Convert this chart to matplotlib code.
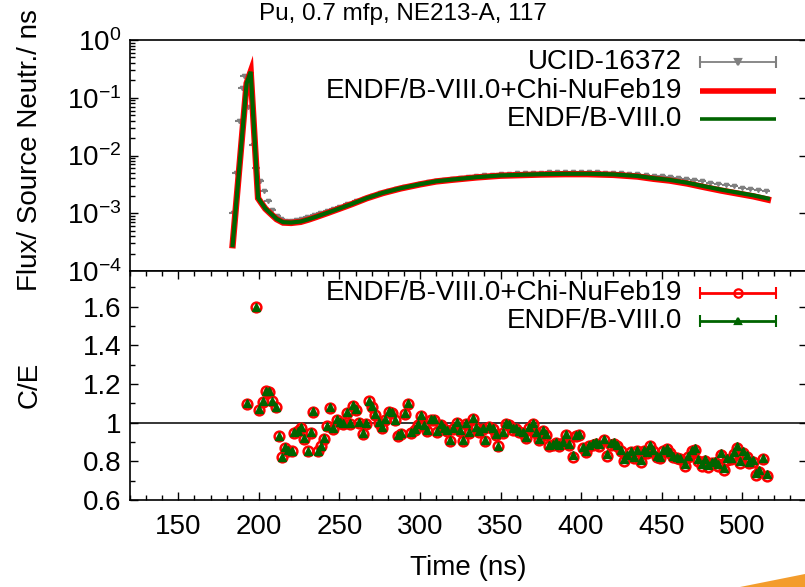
import numpy as np
import matplotlib
matplotlib.use("Agg")
import matplotlib.pyplot as plt
from matplotlib.ticker import MultipleLocator, LogLocator, LogFormatterMathtext, NullFormatter
from matplotlib.patches import Polygon

plt.rcParams['font.family'] = ['Liberation Sans', 'DejaVu Sans']
plt.rcParams['mathtext.fontset'] = 'custom'
plt.rcParams['mathtext.rm'] = 'Liberation Sans'
plt.rcParams['mathtext.it'] = 'Liberation Sans'

title = "Pu, 0.7 mfp, NE213-A, 117"
lab_exp = "UCID-16372"
lab_chi = "ENDF/B-VIII.0+Chi-NuFeb19"
lab_b8 = "ENDF/B-VIII.0"

# measured spectrum (gray)
exp_t = [183.7, 185.8, 187.9, 189.3, 191.0, 193.4, 196.2, 198.5, 200.7, 203.0,
         205.5, 208.0, 211.0, 214.0, 217.0, 220.0, 223.0, 226.0, 230.0, 234.0,
         238.0, 242.0, 246.0, 250.0, 255.0, 260.0, 265.0, 270.0, 275.0, 280.0,
         285.0, 290.0, 295.0, 300.0, 305.0, 310.0, 315.0, 320.0, 325.0, 330.0,
         335.0, 340.0, 345.0, 350.0, 355.0, 360.0, 365.0, 370.0, 375.0, 380.0,
         385.0, 390.0, 395.0, 400.0, 405.0, 410.0, 415.0, 420.0, 425.0, 430.0,
         435.0, 440.0, 445.0, 450.0, 455.0, 460.0, 465.0, 470.0, 475.0, 480.0,
         485.0, 490.0, 495.0, 500.0, 505.0, 510.0, 515.0]
exp_flux = [1.0e-3, 5.0e-3, 4.0e-2, 0.15, 0.24, 0.07, 0.015, 6.0e-3, 3.6e-3, 2.4e-3,
            1.6e-3, 1.15e-3, 9.0e-4, 7.8e-4, 7.4e-4, 7.4e-4, 7.5e-4, 7.8e-4, 8.5e-4, 9.3e-4,
            1.02e-3, 1.10e-3, 1.20e-3, 1.30e-3, 1.45e-3, 1.62e-3, 1.80e-3, 2.00e-3, 2.22e-3, 2.42e-3,
            2.62e-3, 2.82e-3, 3.02e-3, 3.20e-3, 3.42e-3, 3.60e-3, 3.78e-3, 3.95e-3, 4.10e-3, 4.25e-3,
            4.40e-3, 4.55e-3, 4.65e-3, 4.75e-3, 4.85e-3, 4.92e-3, 4.98e-3, 5.03e-3, 5.07e-3, 5.10e-3,
            5.12e-3, 5.15e-3, 5.15e-3, 5.15e-3, 5.12e-3, 5.10e-3, 5.05e-3, 5.00e-3, 4.92e-3, 4.85e-3,
            4.75e-3, 4.62e-3, 4.50e-3, 4.35e-3, 4.20e-3, 4.05e-3, 3.90e-3, 3.72e-3, 3.55e-3, 3.38e-3,
            3.22e-3, 3.07e-3, 2.92e-3, 2.78e-3, 2.65e-3, 2.52e-3, 2.42e-3]
exp_dt = 2.5
exp_rel = 0.03

# calculations
calc_t = [183.7, 192.4, 194.9, 199.5, 201.0, 204.0, 207.0, 211.0, 215.0, 220.0,
          226.0, 231.0, 236.0, 243.0, 250.0, 258.0, 267.0, 277.0, 288.0, 300.0,
          310.0, 320.0, 335.0, 350.0, 362.0, 375.0, 390.0, 404.0, 420.0, 435.0,
          445.0, 455.0, 466.0, 476.0, 487.0, 497.0, 507.0, 516.0]
calc_chi = [2.8e-4, 0.178, 0.282, 1.82e-3, 1.58e-3, 1.20e-3, 1.0e-3, 7.9e-4, 6.9e-4, 6.8e-4,
            7.1e-4, 7.8e-4, 8.7e-4, 1.02e-3, 1.20e-3, 1.45e-3, 1.82e-3, 2.24e-3, 2.69e-3, 3.16e-3,
            3.55e-3, 3.80e-3, 4.17e-3, 4.47e-3, 4.57e-3, 4.68e-3, 4.75e-3, 4.75e-3, 4.62e-3, 4.32e-3,
            3.95e-3, 3.68e-3, 3.27e-3, 2.85e-3, 2.47e-3, 2.20e-3, 1.96e-3, 1.72e-3]
calc_b8 = [2.8e-4, 0.178, 0.282, 1.84e-3, 1.60e-3, 1.21e-3, 1.01e-3, 8.0e-4, 7.0e-4, 6.9e-4,
           7.2e-4, 7.9e-4, 8.8e-4, 1.03e-3, 1.21e-3, 1.46e-3, 1.83e-3, 2.26e-3, 2.71e-3, 3.18e-3,
           3.58e-3, 3.83e-3, 4.21e-3, 4.52e-3, 4.63e-3, 4.75e-3, 4.82e-3, 4.83e-3, 4.71e-3, 4.42e-3,
           4.05e-3, 3.78e-3, 3.37e-3, 2.95e-3, 2.56e-3, 2.28e-3, 2.04e-3, 1.80e-3]

# C/E ratios
ce_t = [192.4, 198.2, 200.3, 202.3, 204.2, 206.3, 208.3, 210.4, 212.5, 214.5,
        216.2, 218.3, 220.4, 222.0, 224.1, 226.1, 228.2, 230.3, 232.4, 233.8,
        236.5, 238.6, 240.6, 242.1, 244.1, 246.2, 248.3, 250.4, 252.4, 254.5,
        256.6, 258.6, 260.3, 262.3, 264.4, 266.5, 268.2, 270.2, 272.3, 274.4,
        276.4, 278.5, 280.6, 282.6, 284.7, 286.4, 288.4, 290.5, 292.6, 294.6,
        296.7, 298.8, 300.4, 302.5, 304.6, 306.7, 308.7, 310.8, 312.9, 314.9,
        317.0, 318.6, 320.7, 322.8, 324.8, 326.5, 328.6, 330.6, 332.7, 334.8,
        336.8, 339.3, 340.4, 343.0, 345.1, 347.2, 348.6, 351.3, 353.4, 355.4,
        357.6, 359.6, 361.7, 363.8, 365.8, 367.9, 370.0, 372.0, 374.1, 376.2,
        378.2, 380.3, 382.4, 384.4, 386.5, 388.6, 390.6, 392.7, 394.8, 396.8,
        398.9, 401.0, 403.0, 405.1, 407.2, 409.3, 411.3, 414.2, 416.3, 418.4,
        420.4, 422.5, 424.6, 426.6, 428.7, 430.8, 432.9, 434.9, 437.0, 439.1,
        441.1, 442.8, 444.8, 447.0, 449.0, 451.1, 453.1, 455.2, 457.3, 459.4,
        461.4, 464.5, 466.6, 468.7, 470.7, 472.8, 474.9, 476.9, 479.0, 481.1,
        483.1, 485.2, 486.7, 488.8, 490.8, 492.9, 494.9, 496.6, 498.7, 500.7,
        502.8, 504.4, 506.5, 508.6, 510.6, 513.1, 515.2]
ce_chi = [1.097, 1.599, 1.068, 1.107, 1.163, 1.160, 1.110, 1.080, 0.929, 0.820,
          0.869, 0.855, 0.851, 0.946, 0.955, 0.972, 0.915, 0.851, 0.946, 1.054,
          0.851, 0.877, 0.915, 0.981, 1.076, 0.967, 1.016, 0.998, 0.995, 1.050,
          0.995, 1.088, 1.068, 0.998, 0.943, 0.995, 1.110, 1.080, 1.042, 0.998,
          0.972, 1.016, 1.054, 1.050, 1.012, 0.932, 0.943, 1.047, 1.097, 0.946,
          0.964, 0.990, 1.033, 0.981, 0.955, 1.016, 1.016, 0.950, 0.990, 0.967,
          0.955, 0.906, 0.967, 0.998, 0.955, 0.903, 0.995, 0.946, 1.021, 0.975,
          0.950, 0.967, 0.903, 0.978, 0.967, 0.938, 0.877, 0.946, 0.995, 0.990,
          0.964, 0.967, 0.950, 0.946, 0.920, 0.972, 0.995, 0.946, 0.912, 0.955,
          0.938, 0.881, 0.886, 0.894, 0.881, 0.894, 0.938, 0.886, 0.825, 0.929,
          0.934, 0.869, 0.846, 0.877, 0.886, 0.891, 0.881, 0.908, 0.829, 0.886,
          0.891, 0.877, 0.851, 0.804, 0.825, 0.846, 0.817, 0.851, 0.799, 0.851,
          0.843, 0.877, 0.851, 0.822, 0.817, 0.851, 0.863, 0.843, 0.822, 0.817,
          0.811, 0.777, 0.822, 0.851, 0.860, 0.804, 0.777, 0.804, 0.773, 0.791,
          0.794, 0.777, 0.834, 0.756, 0.808, 0.811, 0.839, 0.869, 0.794, 0.843,
          0.825, 0.791, 0.799, 0.730, 0.747, 0.811, 0.725]
ce_b8 = [1.100, 1.600, 1.072, 1.110, 1.166, 1.163, 1.113, 1.083, 0.932, 0.823,
         0.872, 0.858, 0.854, 0.950, 0.958, 0.976, 0.919, 0.855, 0.950, 1.058,
         0.855, 0.881, 0.919, 0.985, 1.080, 0.971, 1.020, 1.002, 0.999, 1.054,
         0.999, 1.092, 1.072, 1.002, 0.947, 0.999, 1.114, 1.084, 1.046, 1.002,
         0.976, 1.020, 1.058, 1.054, 1.016, 0.936, 0.947, 1.051, 1.101, 0.950,
         0.969, 0.995, 1.038, 0.986, 0.960, 1.021, 1.021, 0.955, 0.995, 0.972,
         0.960, 0.911, 0.972, 1.003, 0.960, 0.908, 1.000, 0.951, 1.026, 0.980,
         0.955, 0.972, 0.908, 0.983, 0.972, 0.943, 0.882, 0.951, 1.000, 0.995,
         0.970, 0.973, 0.956, 0.952, 0.926, 0.978, 1.001, 0.952, 0.918, 0.961,
         0.944, 0.887, 0.892, 0.900, 0.887, 0.900, 0.944, 0.892, 0.831, 0.935,
         0.941, 0.876, 0.853, 0.884, 0.893, 0.898, 0.888, 0.915, 0.836, 0.893,
         0.898, 0.884, 0.858, 0.811, 0.832, 0.853, 0.824, 0.858, 0.806, 0.858,
         0.850, 0.884, 0.858, 0.829, 0.824, 0.858, 0.870, 0.850, 0.829, 0.824,
         0.818, 0.784, 0.829, 0.858, 0.867, 0.811, 0.784, 0.811, 0.780, 0.798,
         0.801, 0.784, 0.842, 0.764, 0.816, 0.819, 0.847, 0.877, 0.802, 0.851,
         0.833, 0.799, 0.807, 0.738, 0.755, 0.819, 0.733]

RED = '#ff0000'
GREEN = '#006400'
GRAY = '#808080'
FS = 20

W, H = 805, 587
fig = plt.figure(figsize=(W / 100, H / 100), dpi=100)
L, R = 130, 806.6
ax1 = fig.add_axes([L / W, (H - 271) / H, (R - L) / W, 231 / H])
ax2 = fig.add_axes([L / W, (H - 500) / H, (R - L) / W, 229 / H])

# ---- top panel: spectra
exp_flux = np.array(exp_flux)
ax1.errorbar(exp_t, exp_flux, xerr=exp_dt, yerr=exp_flux * exp_rel, fmt='v', ms=3,
             color=GRAY, ecolor=GRAY, elinewidth=1.5, capsize=0, zorder=2)
ax1.plot(calc_t, calc_chi, color=RED, lw=4.6, zorder=3, solid_joinstyle='miter')
ax1.plot(calc_t, calc_b8, color=GREEN, lw=3.0, zorder=4, solid_joinstyle='miter')

ax1.set_yscale('log')
ax1.set_ylim(1e-4, 1)
ax1.set_xlim(120, 540)
ax1.yaxis.set_major_locator(LogLocator(base=10, numticks=10))
ax1.yaxis.set_minor_locator(LogLocator(base=10, subs=np.arange(2, 10), numticks=10))
ax1.yaxis.set_major_formatter(LogFormatterMathtext())
ax1.yaxis.set_minor_formatter(NullFormatter())
ax1.tick_params(axis='x', which='both', bottom=False, top=False, labelbottom=False)

# ---- bottom panel: C/E
ax2.axhline(1.0, color='black', lw=1.1, zorder=1)
ax2.plot(ce_t, ce_chi, 'o', ms=7, mfc='none', mec=RED, mew=1.8, zorder=3)
ax2.plot(ce_t, ce_b8, '^', ms=5.5, color=GREEN, mec=GREEN, zorder=4)
ax2.set_xlim(120, 540)
ax2.set_ylim(0.6, 1.785)
ax2.xaxis.set_major_locator(MultipleLocator(50))
ax2.xaxis.set_minor_locator(MultipleLocator(10))
ax2.yaxis.set_major_locator(MultipleLocator(0.2))
ax2.yaxis.set_minor_locator(MultipleLocator(0.1))
ax2.set_yticks([0.6, 0.8, 1.0, 1.2, 1.4, 1.6])
ax2.set_yticklabels(['0.6', '0.8', '1', '1.2', '1.4', '1.6'])
ax2.set_xticks([150, 200, 250, 300, 350, 400, 450, 500])
ax2.tick_params(axis='x', which='both', top=True)

for ax in (ax1, ax2):
    for s in ax.spines.values():
        s.set_linewidth(1.2)
    ax.tick_params(which='both', direction='in', right=True, labelsize=FS, width=1.0)
    ax.tick_params(which='major', length=6)
    ax.tick_params(which='minor', length=3.5)
    ax.tick_params(axis='y', which='minor', right=False)
    ax.tick_params(axis='y', pad=6)
ax2.tick_params(axis='x', pad=10)

# ---- keys (gnuplot style, drawn by hand)
def key_row(ax, y, label, color, lw, marker=None, ms=0, mfc=None, caps=False):
    ax.text(0.8158, y, label, transform=ax.transAxes, ha='right', va='center', fontsize=FS)
    ax.plot([0.8424, 0.9548], [y, y], transform=ax.transAxes, color=color, lw=lw,
            solid_capstyle='butt', clip_on=False)
    if caps:
        ax.plot([0.8424, 0.9548], [y, y], transform=ax.transAxes, ls='none', marker='|',
                ms=8, mew=1.5, color=color, clip_on=False)
    if marker:
        ax.plot([0.8986], [y], transform=ax.transAxes, ls='none', marker=marker, ms=ms,
                color=color, mfc=mfc if mfc else color, mec=color, mew=1.6, clip_on=False)

key_row(ax1, 0.9048, lab_exp, GRAY, 1.3, marker='v', ms=5, caps=True)
key_row(ax1, 0.7792, lab_chi, RED, 4.0)
key_row(ax1, 0.6580, lab_b8, GREEN, 2.6)
key_row(ax2, 0.9053, lab_chi, RED, 2.0, marker='o', ms=6, mfc='none', caps=True)
key_row(ax2, 0.7830, lab_b8, GREEN, 2.0, marker='^', ms=4, caps=True)

# ---- labels
fig.text(0.5, 1 - 14 / H, title, ha='center', va='center', fontsize=17.5)
fig.text(30 / W, 1 - 150 / H, "Flux/ Source Neutr./ ns", rotation=90,
         ha='center', va='center', fontsize=FS)
fig.text(30 / W, 1 - 385 / H, "C/E", rotation=90, ha='center', va='center', fontsize=FS)
fig.text(468 / W, 1 - 568 / H, "Time (ns)", ha='center', va='center', fontsize=FS)

# orange corner decoration
fig.patches.append(Polygon([[740 / W, 0], [1.0, 13 / H], [1.0, 0]], closed=True,
                           transform=fig.transFigure, facecolor='#f39c2c', edgecolor='none'))

fig.savefig('out.png', dpi=100)
